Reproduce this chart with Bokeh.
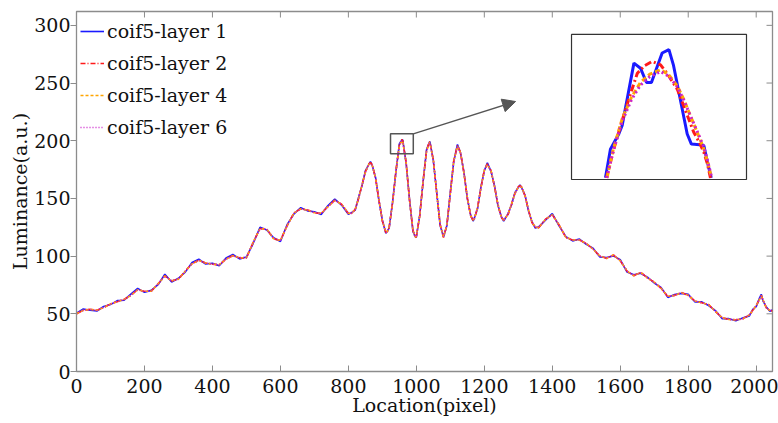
from bokeh.plotting import figure
from bokeh.models import (Range1d, Legend, LegendItem, Arrow, NormalHead,
                          FixedTicker)
from bokeh.embed import file_html
from bokeh.resources import INLINE

# ---- luminance profiles along the line (pixel location -> luminance) ----
location = [
    0, 20, 40, 60, 80, 100, 120, 140, 160, 180,
    200, 220, 240, 260, 280, 300, 320, 340, 360, 380,
    400, 420, 440, 460, 480, 500, 520, 540, 560, 580,
    600, 620, 640, 660, 680, 700, 720, 740, 760, 780,
    800, 810, 820, 830, 840, 850, 860, 865, 870, 880,
    890, 900, 910, 913, 920, 930, 940, 950, 957, 960,
    970, 980, 990, 997, 1000, 1010, 1020, 1030, 1038, 1040,
    1050, 1060, 1070, 1080, 1090, 1100, 1110, 1121, 1130, 1140,
    1150, 1160, 1167, 1170, 1180, 1190, 1200, 1209, 1220, 1230,
    1240, 1250, 1257, 1270, 1280, 1290, 1300, 1305, 1310, 1320,
    1330, 1340, 1350, 1360, 1380, 1400, 1420, 1440, 1460, 1480,
    1500, 1520, 1540, 1560, 1580, 1600, 1620, 1640, 1660, 1680,
    1700, 1720, 1740, 1760, 1780, 1800, 1820, 1840, 1860, 1880,
    1900, 1920, 1940, 1960, 1980, 1990, 2000, 2010, 2015, 2020,
    2030, 2040, 2048,
]

layer1 = [
    50.5, 54.2, 53.1, 52.4, 56.3, 58.0, 61.4, 61.8, 67.1, 72.0,
    68.6, 70.3, 75.2, 84.3, 77.6, 80.8, 86.1, 94.4, 97.3, 93.1,
    93.8, 91.6, 98.3, 101.4, 97.6, 99.2, 111.1, 125.0, 122.6, 115.9,
    112.7, 127.4, 136.6, 142.0, 139.2, 138.4, 136.1, 143.9, 149.4, 144.2,
    136.2, 137.9, 139.8, 150.8, 160.9, 173.8, 179.4, 181.9, 178.7, 168.2,
    147.8, 131.1, 119.9, 120.8, 124.2, 146.7, 173.3, 197.2, 200.4, 200.8,
    180.3, 148.9, 121.5, 116.8, 116.5, 135.6, 164.7, 192.1, 198.4, 199.2,
    182.7, 155.1, 126.5, 116.7, 126.6, 155.2, 181.9, 196.7, 189.3, 172.9,
    149.8, 135.3, 130.4, 132.3, 141.0, 159.8, 174.0, 180.8, 173.2, 161.0,
    144.0, 134.2, 130.3, 136.9, 144.3, 155.0, 159.5, 161.8, 159.2, 152.7,
    139.2, 130.0, 124.3, 125.3, 131.2, 136.9, 126.2, 116.9, 113.2, 114.8,
    110.2, 106.9, 99.2, 98.8, 100.2, 96.9, 86.2, 83.9, 85.2, 81.8,
    76.7, 72.9, 64.2, 66.8, 67.7, 66.9, 60.2, 60.3, 57.2, 52.8,
    45.7, 45.8, 44.0, 46.3, 48.2, 53.8, 56.2, 63.8, 66.9, 61.2,
    55.8, 52.2, 53.3,
]

layer2 = [
    50, 53, 54, 53, 55.5, 58.5, 60.5, 62.5, 66, 71,
    69.5, 69.5, 76, 83, 78.5, 80, 87, 93.5, 96.5, 94,
    93, 92.5, 97.5, 100.5, 98.5, 98.5, 112, 124, 123.5, 115,
    113.5, 126.5, 137.5, 141, 140, 137.5, 137, 143, 148.5, 145,
    137, 137, 140.5, 150, 161.5, 173, 180, 181, 179.4, 167.5,
    148.5, 130.4, 120.6, 120, 124.9, 146, 174, 196.5, 201, 200,
    181, 148.2, 122.2, 116, 117.1, 134.9, 165.4, 191.4, 199, 198.5,
    183.4, 154.4, 127.2, 116, 127.2, 154.5, 182.6, 196, 190, 172.2,
    150.5, 134.6, 131, 131.6, 141.7, 159.1, 174.7, 180, 173.9, 160.3,
    144.7, 133.5, 131, 136.1, 145, 154.3, 160.2, 161, 159.9, 152,
    139.9, 129.2, 125, 124.5, 132, 136, 127, 116, 114, 114,
    111, 106, 100, 98, 101, 96, 87, 83, 86, 81,
    77.5, 72, 65, 66, 68.5, 66, 61, 59.5, 58, 52,
    46.5, 45, 44.8, 45.5, 49, 53, 57, 63, 66, 62,
    55, 53, 52.5,
]

layer4 = [
    50, 53.1, 53.9, 53.1, 55.4, 58.6, 60.4, 62.6, 65.9, 70.8,
    69.6, 69.6, 76.1, 82.7, 78.6, 80.1, 86.9, 93.3, 96.3, 94.1,
    93, 92.6, 97.4, 100.3, 98.6, 98.6, 112, 123.7, 123.4, 115.1,
    113.6, 126.4, 137.4, 140.8, 140, 137.6, 137.1, 142.9, 148.2, 145,
    137.2, 137.2, 140.6, 150, 161.3, 172.6, 179.4, 180.4, 179, 167.6,
    148.7, 130.7, 121, 120.5, 125.2, 146, 173.7, 195.7, 199.8, 199.2,
    181.2, 148.5, 122.6, 116.5, 117.5, 135, 165.2, 190.8, 198.2, 197.9,
    183.4, 154.6, 127.6, 116.5, 127.5, 154.5, 182.2, 195.3, 189.6, 172.3,
    150.7, 135, 131.4, 132, 141.8, 159, 174.3, 179.4, 173.7, 160.4,
    144.9, 133.8, 131.4, 136.2, 145, 154.1, 159.8, 160.5, 159.6, 152.1,
    140.1, 129.5, 125.3, 124.7, 131.9, 135.8, 127.1, 116.2, 114.1, 114,
    111, 106.1, 100.1, 98.1, 100.9, 96.1, 87.1, 83.1, 85.8, 81.1,
    77.5, 72.1, 65.2, 65.9, 68.3, 66, 61.1, 59.5, 58, 52.2,
    46.6, 45.1, 44.9, 45.5, 49.1, 53, 57.1, 62.7, 65.6, 62,
    55.1, 53, 52.5,
]

layer6 = [
    50.1, 53, 53.9, 53.1, 55.5, 58.5, 60.5, 62.5, 65.9, 70.7,
    69.6, 69.6, 76, 82.6, 78.7, 80.1, 86.8, 93.2, 96.2, 94.1,
    93.1, 92.6, 97.3, 100.2, 98.7, 98.7, 111.8, 123.5, 123.3, 115.2,
    113.7, 126.3, 137.3, 140.7, 140, 137.6, 137.1, 142.8, 148.1, 144.9,
    137.3, 137.3, 140.7, 150.1, 161.2, 172.4, 179.2, 180.2, 178.9, 167.7,
    148.8, 130.9, 121.2, 120.7, 125.4, 146.1, 173.5, 195.5, 199.6, 199,
    181.3, 148.7, 122.8, 116.7, 117.7, 135.1, 165.1, 190.6, 198, 197.7,
    183.3, 154.7, 127.8, 116.7, 127.6, 154.4, 182, 195.1, 189.5, 172.4,
    150.8, 135.2, 131.6, 132.1, 141.8, 158.9, 174.1, 179.2, 173.6, 160.5,
    145, 134, 131.6, 136.3, 144.9, 154, 159.7, 160.4, 159.5, 152.2,
    140.2, 129.6, 125.4, 124.8, 131.8, 135.7, 127.2, 116.3, 114.2, 114.1,
    111, 106.2, 100.2, 98.2, 100.8, 96.2, 87.2, 83.2, 85.7, 81.2,
    77.4, 72.2, 65.3, 65.9, 68.2, 66, 61.2, 59.6, 58, 52.3,
    46.7, 45.2, 45, 45.6, 49.2, 53.1, 57, 62.6, 65.4, 61.9,
    55.2, 53.1, 52.6,
]

# ---- close-up of the peak near location 957 ----
zoom_x = (924, 991)
zoom_y = (188.8, 206)

inset_x1 = [937.0, 938.9, 942.1, 943.4, 947.9, 950.4, 952.7, 954.6, 958.7,
            961.3, 963.0, 968.3, 969.9, 974.1, 974.7, 976.0, 977.5]
inset_y1 = [189.0, 192.4, 194.2, 195.2, 202.6, 202.0, 200.3, 200.3, 203.8,
            204.2, 202.4, 194.2, 193.0, 192.9, 192.8, 190.9, 189.0]

inset_x2 = [937.4, 940, 942.8, 946, 949.2, 952, 954.9, 958.1, 961,
            964.5, 967.5, 970.8, 972.8, 974.7, 976, 977.2]
inset_y2 = [189, 192.2, 195.2, 198.4, 201.4, 202.3, 202.8, 202.4, 201.2,
            199.5, 197.1, 194.4, 193.3, 192.0, 190.7, 189]

inset_x4 = [937.6, 940, 943.4, 947, 950.4, 954, 958.1, 961, 964.5,
            967, 969.6, 972, 974.7, 976.2, 977.6]
inset_y4 = [189, 192.4, 196.0, 198.6, 200.3, 201.3, 201.8, 201.3, 199.9,
            198.3, 196.3, 194.5, 192.4, 190.8, 189]

inset_x6 = [937.5, 940, 943.4, 947, 950.4, 954, 958.1, 961, 964.5,
            967, 969.6, 972, 974.7, 976.2, 977.7]
inset_y6 = [189, 192.2, 195.7, 198.3, 200.0, 201.0, 201.6, 201.1, 199.8,
            198.2, 196.3, 194.6, 192.6, 190.9, 189]

# where the close-up panel sits, in main-axis units
inset_box_x = (1456.6, 1971.5)
inset_box_y = (166.4, 292.1)
arrow_tip = (1292, 234)

x_ticks = [0, 200, 400, 600, 800, 1000, 1200, 1400, 1600, 1800, 2000]
y_ticks = [0, 50, 100, 150, 200, 250, 300]
x_lim = (0, 2048)
y_lim = (0, 312)

labels = ["coif5-layer 1", "coif5-layer 2", "coif5-layer 4", "coif5-layer 6"]
colors = ["#1a1aff", "#ff1a1a", "#ffa500", "#cc22cc"]
dashes = ["solid", "5 2 1 2", "3 2", "1 2"]

FONT = "DejaVu Serif"
AXIS_GREY = "#8c8c8c"
TEXT = "#111111"

W, H = 778, 423
BORDER_L, BORDER_R, BORDER_T, BORDER_B = 76, 6, 11, 52

p = figure(width=W, height=H, output_backend="svg", toolbar_location=None,
           x_range=Range1d(*x_lim), y_range=Range1d(*y_lim),
           min_border_left=BORDER_L, min_border_right=BORDER_R,
           min_border_top=BORDER_T, min_border_bottom=BORDER_B,
           background_fill_color="white", border_fill_color="white")
p.xgrid.visible = False
p.ygrid.visible = False
p.outline_line_color = AXIS_GREY
p.outline_line_width = 1.3

# bottom axis
xa = p.xaxis[0]
xa.ticker = FixedTicker(ticks=x_ticks)
xa.major_tick_in = 6
xa.major_tick_out = 0
xa.minor_tick_line_color = None
xa.axis_line_color = AXIS_GREY
xa.major_tick_line_color = AXIS_GREY
xa.major_label_text_font = FONT
xa.major_label_text_font_size = "19px"
xa.major_label_text_color = TEXT
xa.major_label_standoff = 7
xa.axis_label = "Location(pixel)"
xa.axis_label_text_font = FONT
xa.axis_label_text_font_size = "19px"
xa.axis_label_text_font_style = "normal"
xa.axis_label_text_color = TEXT
xa.axis_label_standoff = -2

# left axis
ya = p.yaxis[0]
ya.ticker = FixedTicker(ticks=y_ticks)
ya.major_tick_in = 0
ya.major_tick_out = 6
ya.minor_tick_line_color = None
ya.axis_line_color = AXIS_GREY
ya.major_tick_line_color = AXIS_GREY
ya.major_label_text_font = FONT
ya.major_label_text_font_size = "19px"
ya.major_label_text_color = TEXT
ya.major_label_standoff = 0
ya.axis_label = "Luminance(a.u.)"
ya.axis_label_text_font = FONT
ya.axis_label_text_font_size = "19px"
ya.axis_label_text_font_style = "normal"
ya.axis_label_text_color = TEXT
ya.axis_label_standoff = 0

# inward tick marks along the top and right edges of the frame
frame_w = W - BORDER_L - BORDER_R
frame_h = H - BORDER_T - BORDER_B
tick_dx = 6 * (x_lim[1] - x_lim[0]) / frame_w
tick_dy = 6 * (y_lim[1] - y_lim[0]) / frame_h
p.segment(x0=x_ticks, x1=x_ticks, y0=[y_lim[1]] * len(x_ticks),
          y1=[y_lim[1] - tick_dy] * len(x_ticks),
          line_color=AXIS_GREY, line_width=1)
p.segment(x0=[x_lim[1]] * len(y_ticks), x1=[x_lim[1] - tick_dx] * len(y_ticks),
          y0=y_ticks, y1=y_ticks, line_color=AXIS_GREY, line_width=1)

# main profiles
series = [layer1, layer2, layer4, layer6]
renderers = []
for ys, c, d in zip(series, colors, dashes):
    r = p.line(location, ys, line_color=c, line_width=1.6, line_dash=d)
    renderers.append(r)

# marker box around the enlarged peak
p.quad(left=[zoom_x[0]], right=[zoom_x[1]], bottom=[zoom_y[0]], top=[zoom_y[1]],
       fill_color=None, line_color="#555555", line_width=1.5)

p.add_layout(Arrow(end=NormalHead(size=13, fill_color="#555555",
                                  line_color="#555555"),
                   x_start=zoom_x[1], y_start=zoom_y[1],
                   x_end=arrow_tip[0], y_end=arrow_tip[1],
                   line_color="#555555", line_width=1.3))

# inset panel
p.quad(left=[inset_box_x[0]], right=[inset_box_x[1]],
       bottom=[inset_box_y[0]], top=[inset_box_y[1]],
       fill_color="white", line_color="#333333", line_width=1.2)

# ranges that map the zoom window onto the inset panel
sx = (zoom_x[1] - zoom_x[0]) / (inset_box_x[1] - inset_box_x[0])
sy = (zoom_y[1] - zoom_y[0]) / (inset_box_y[1] - inset_box_y[0])
p.extra_x_ranges = {"zx": Range1d(zoom_x[0] - (inset_box_x[0] - x_lim[0]) * sx,
                                  zoom_x[0] + (x_lim[1] - inset_box_x[0]) * sx)}
p.extra_y_ranges = {"zy": Range1d(zoom_y[0] - (inset_box_y[0] - y_lim[0]) * sy,
                                  zoom_y[0] + (y_lim[1] - inset_box_y[0]) * sy)}

inset_dashes = ["solid", "7 3 2 3", "5 3", "2 3"]
inset_data = [(inset_x1, inset_y1), (inset_x2, inset_y2),
              (inset_x4, inset_y4), (inset_x6, inset_y6)]
for (xs, ys), c, d in zip(inset_data, colors, inset_dashes):
    p.line(xs, ys, line_color=c, line_width=3, line_dash=d,
           x_range_name="zx", y_range_name="zy")

legend = Legend(items=[LegendItem(label=l, renderers=[r])
                       for l, r in zip(labels, renderers)],
                location="top_left", margin=4, padding=6, spacing=0,
                glyph_width=24, glyph_height=32, label_height=32,
                label_standoff=3, label_text_font=FONT,
                label_text_font_size="19px", label_text_color=TEXT,
                background_fill_alpha=0, border_line_color=None)
p.add_layout(legend)

open("out.html", "w").write(file_html(p, INLINE))
